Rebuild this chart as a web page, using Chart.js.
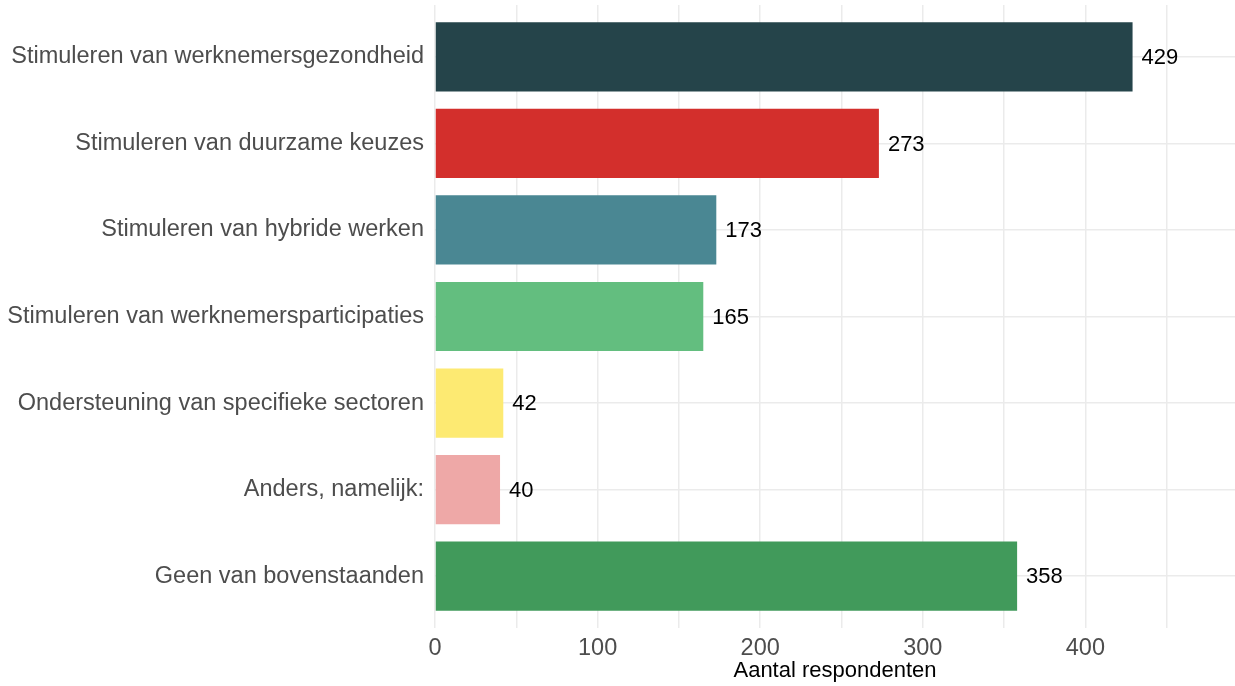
<!DOCTYPE html>
<html>
<head>
<meta charset="utf-8">
<script src="https://cdn.jsdelivr.net/npm/chart.js@4/dist/chart.umd.min.js"></script>
<style>
  html, body { margin: 0; padding: 0; background: #fff; }
  #wrap { width: 1235px; height: 686px; }
</style>
</head>
<body>
<div id="wrap"><canvas id="respChart"></canvas></div>
<script>
// antwoorden en aantallen
const categorieen = [
  'Stimuleren van werknemersgezondheid',
  'Stimuleren van duurzame keuzes',
  'Stimuleren van hybride werken',
  'Stimuleren van werknemersparticipaties',
  'Ondersteuning van specifieke sectoren',
  'Anders, namelijk:',
  'Geen van bovenstaanden'
];
const aantallen = [429, 273, 173, 165, 42, 40, 358];
const kleuren = ['#25444a', '#d32f2c', '#4a8793', '#63be7f', '#fdea72', '#eea8a7', '#419a5b'];
const xTicks = [0, 100, 200, 300, 400];

const fontFam = '"Liberation Sans", Arial, sans-serif';

// y als lineaire as zodat er 0.6 categorie ruimte boven en onder blijft
const punten = aantallen.map(function (v, i) { return { x: v, y: i }; });

// getal rechts naast elke balk
const waardeLabels = {
  id: 'waardeLabels',
  afterDatasetsDraw(chart) {
    const ctx = chart.ctx;
    const meta = chart.getDatasetMeta(0);
    ctx.save();
    ctx.font = '22px ' + fontFam;
    ctx.fillStyle = '#000';
    ctx.textAlign = 'left';
    ctx.textBaseline = 'middle';
    meta.data.forEach(function (bar, i) {
      ctx.fillText(String(aantallen[i]), bar.x + 9, bar.y + 1);
    });
    ctx.restore();
  }
};

function geenRandPadding(scale) {
  scale.paddingTop = 0;
  scale.paddingBottom = 0;
  scale.paddingLeft = 0;
  scale.paddingRight = 0;
}

new Chart(document.getElementById('respChart'), {
  type: 'bar',
  data: {
    datasets: [{
      data: punten,
      backgroundColor: kleuren,
      borderWidth: 0,
      barPercentage: 0.8,
      categoryPercentage: 1.0
    }]
  },
  options: {
    indexAxis: 'y',
    responsive: true,
    maintainAspectRatio: false,
    animation: false,
    layout: { padding: { top: 5, right: 0, bottom: 0, left: 0 } },
    plugins: {
      legend: { display: false },
      tooltip: { enabled: false }
    },
    scales: {
      x: {
        type: 'linear',
        min: 0,
        max: 492,
        afterBuildTicks: function (scale) {
          const t = [];
          for (let v = 0; v <= 450; v += 50) t.push({ value: v });
          scale.ticks = t;
        },
        afterFit: function (scale) {
          scale.height = 58;
          geenRandPadding(scale);
        },
        border: { display: false },
        grid: { color: '#ebebeb', lineWidth: 1.5, drawTicks: false },
        ticks: {
          padding: 6,
          color: '#4d4d4d',
          font: { family: fontFam, size: 23.5 },
          autoSkip: false,
          maxRotation: 0,
          callback: function (v) { return xTicks.indexOf(v) >= 0 ? String(v) : ''; }
        },
        title: {
          display: true,
          text: 'Aantal respondenten',
          color: '#000',
          font: { family: fontFam, size: 22 },
          padding: { top: 0, bottom: 2 }
        }
      },
      y: {
        type: 'linear',
        reverse: true,
        offset: false,
        min: -0.6,
        max: categorieen.length - 1 + 0.6,
        afterBuildTicks: function (scale) {
          scale.ticks = categorieen.map(function (c, i) { return { value: i }; });
        },
        afterFit: function (scale) {
          scale.width = 435;
          geenRandPadding(scale);
        },
        border: { display: false },
        grid: { color: '#ebebeb', lineWidth: 1.5, drawTicks: false, offset: false },
        ticks: {
          padding: 11,
          color: '#4d4d4d',
          font: { family: fontFam, size: 23.5 },
          autoSkip: false,
          callback: function (v) { return categorieen[v]; }
        }
      }
    }
  },
  plugins: [waardeLabels]
});
</script>
</body>
</html>
